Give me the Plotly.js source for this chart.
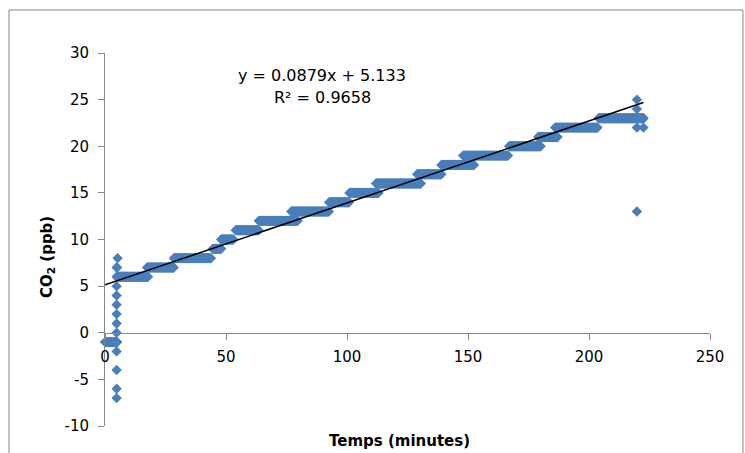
<!DOCTYPE html>
<html>
<head>
<meta charset="utf-8">
<script src="https://cdn.plot.ly/plotly-3.0.1.min.js"></script>
<style>html,body{margin:0;padding:0;background:#fff;}#chart{width:745px;height:453px;}</style>
</head>
<body>
<div id="chart"></div>
<script>
// Plateaus of the CO2 record: level (ppb) and time span (minutes)
const stepLevel = [-1, 6, 7, 8, 9, 10, 11, 12, 13, 14, 15, 16, 17, 18, 19, 20, 21, 22, 23];
const stepStart = [0, 5.0, 17.4, 28.5, 44.5, 48.0, 54.0, 63.6, 77.0, 92.6, 101.0, 112.0, 129.0, 139.0, 148.0, 167.0, 179.0, 186.0, 204.0];
const stepEnd   = [5.0, 17.8, 28.5, 43.8, 48.0, 53.0, 63.6, 79.8, 92.6, 101.0, 113.0, 130.6, 139.0, 152.5, 166.5, 180.0, 187.0, 203.7, 222.7];
const sampleStep = 0.25; // sampling interval of the record (minutes)

// Isolated readings
const isoX = [4.8, 4.8, 4.8, 4.8, 4.8, 4.8, 4.8, 4.8, 4.8, 4.8, 4.8, 4.8, 4.8, 5.2, 5.0, 219.8, 219.8, 219.8, 219.8, 222.5, 222.5];
const isoY = [7, 6, 5, 4, 3, 2, 1, 0, -1, -2, -4, -6, -7, 8, 7, 25, 24, 22, 13, 22, 23];

// Linear trend reported on the chart
const trendSlope = 0.0879;
const trendIntercept = 5.133;

// Axis ticks
const xTickVals = [0, 50, 100, 150, 200, 250];
const xTickText = ['0', '50', '100', '150', '200', '250'];
const yTickVals = [-10, -5, 0, 5, 10, 15, 20, 25, 30];
const yTickText = ['-10', '-5', '0', '5', '10', '15', '20', '25', '30'];

const xs = [], ys = [];
for (let i = 0; i < stepLevel.length; i++) {
  for (let t = stepStart[i]; t <= stepEnd[i] + 1e-9; t += sampleStep) {
    xs.push(t); ys.push(stepLevel[i]);
  }
}
for (let i = 0; i < isoX.length; i++) { xs.push(isoX[i]); ys.push(isoY[i]); }

const xMin = Math.min(...xs), xMax = Math.max(...xs);
const trendX = [xMin, xMax];
const trendY = trendX.map(x => trendSlope * x + trendIntercept);

const font = 'DejaVu Sans, Arial, sans-serif';
const axisColor = '#868686';

const data = [
  {x: xs, y: ys, type: 'scatter', mode: 'markers', cliponaxis: false,
   marker: {symbol: 'diamond', size: 8, color: '#4A7EBB', line: {width: 0}}},
  {x: trendX, y: trendY, type: 'scatter', mode: 'lines', line: {color: '#000000', width: 1.5}}
];

const layout = {
  width: 745, height: 453,
  margin: {l: 105, r: 35, t: 53, b: 27},
  showlegend: false,
  paper_bgcolor: '#ffffff', plot_bgcolor: '#ffffff',
  font: {family: font, color: '#000000', size: 15},
  xaxis: {range: [0, 250], tickmode: 'array', tickvals: xTickVals, ticktext: xTickText,
          anchor: 'free', position: 0.25,
          showline: true, linecolor: axisColor, linewidth: 1, ticks: 'outside', ticklen: 6,
          tickcolor: axisColor, showgrid: false, zeroline: false, ticklabelstandoff: 4,
          tickfont: {family: font, size: 15, color: '#000'}},
  yaxis: {range: [-10, 30], tickmode: 'array', tickvals: yTickVals, ticktext: yTickText,
          showline: true, linecolor: axisColor, linewidth: 1, ticks: 'outside', ticklen: 6,
          tickcolor: axisColor, showgrid: false, zeroline: false, ticklabelstandoff: 6,
          tickfont: {family: font, size: 15, color: '#000'}},
  shapes: [
    {type: 'rect', xref: 'paper', yref: 'paper', x0: -0.1587, x1: 1.0545, y0: -0.2, y1: 1.1153,
     line: {color: axisColor, width: 1}, fillcolor: 'rgba(0,0,0,0)', layer: 'below'}
  ],
  annotations: [
    {xref: 'paper', yref: 'paper', x: 0.3587, y: 0.941, text: 'y = 0.0879x + 5.133', showarrow: false,
     font: {family: font, size: 16, color: '#000'}, xanchor: 'center', yanchor: 'middle'},
    {xref: 'paper', yref: 'paper', x: 0.3587, y: 0.8794, text: 'R² = 0.9658', showarrow: false,
     font: {family: font, size: 16, color: '#000'}, xanchor: 'center', yanchor: 'middle'},
    {xref: 'paper', yref: 'paper', x: -0.0959, y: 0.453, text: '<b>CO<sub>2</sub> (ppb)</b>', showarrow: false,
     textangle: -90, font: {family: font, size: 15, color: '#000'}, xanchor: 'center', yanchor: 'middle'},
    {xref: 'paper', yref: 'paper', x: 0.4876, y: -0.040, text: '<b>Temps (minutes)</b>', showarrow: false,
     font: {family: font, size: 15, color: '#000'}, xanchor: 'center', yanchor: 'middle'}
  ]
};

Plotly.newPlot('chart', data, layout, {displayModeBar: false, staticPlot: true});
</script>
</body>
</html>
